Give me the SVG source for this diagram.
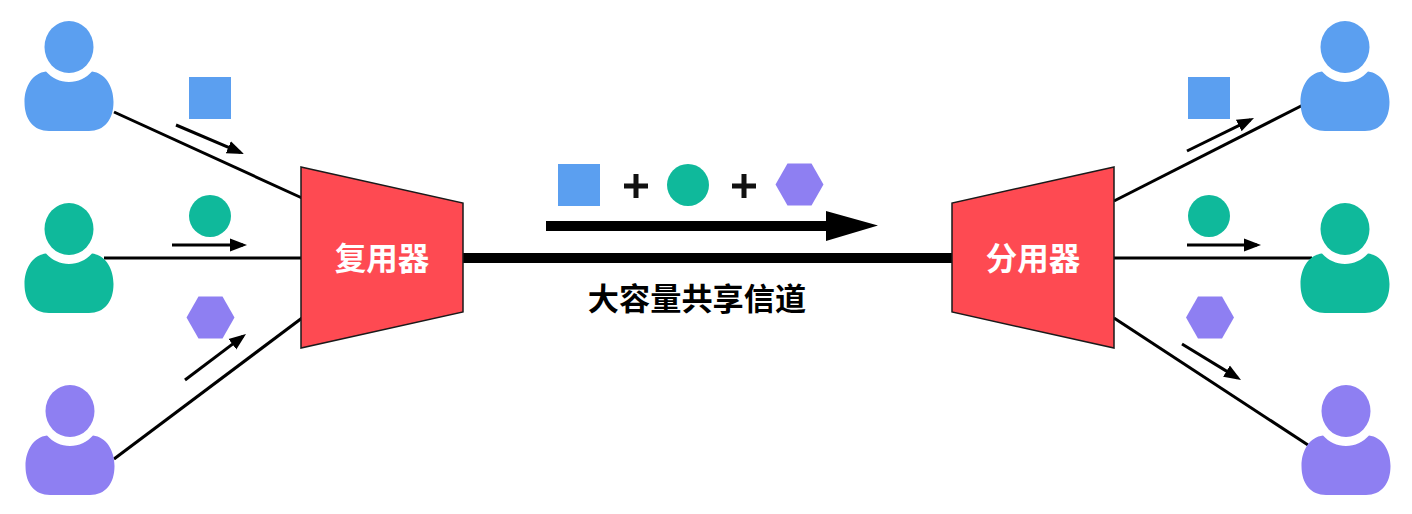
<svg xmlns="http://www.w3.org/2000/svg" xmlns:xlink="http://www.w3.org/1999/xlink" width="1412" height="514" viewBox="0 0 1412 514">
<style>
.blue{fill:#5b9ff0}.green{fill:#0fb99b}.purple{fill:#8e7ff2}
.mux{fill:#fe4a52;stroke:#1a1a1a;stroke-width:1.5}
.link{stroke:#000;stroke-width:3;fill:none}
.flow{stroke:#000;stroke-width:3;fill:none;marker-end:url(#ah)}
.lbl{font-family:"Noto Sans CJK SC","Liberation Sans",sans-serif;font-weight:700;text-anchor:middle}
</style>
<defs>
<marker id="ah" markerUnits="userSpaceOnUse" markerWidth="20" markerHeight="16" refX="13" refY="7" orient="auto"><path d="M0,0.500L17,7L0,13.500Z" fill="#000"/></marker>
<symbol id="person" overflow="visible" viewBox="-46 -27 92 112" width="92" height="112">
<ellipse cx="0" cy="0" rx="24.500" ry="26"/>
<path d="M-23,24.500C-17,31-9,35 0,35C9,35 17,31 23,24.500C36,26 44.500,39 44.500,55C44.500,73 35,84 20,84H-20C-35,84-44.500,73-44.500,55C-44.500,39-36,26-23,24.500Z"/>
</symbol>
<polygon id="hex" points="-24,0 -12,-21 12,-21 24,0 12,21 -12,21"/>
</defs>
<rect width="1412" height="514" fill="#fff"/>
<g id="connectors">
<path class="link" d="M114,112L302,198"/>
<path class="link" d="M104,258H302"/>
<path class="link" d="M114,459L302,318"/>
<path d="M463,258H952" stroke="#000" stroke-width="10" fill="none"/>
<path class="link" d="M1114,201L1303,105"/>
<path class="link" d="M1114,258H1312"/>
<path class="link" d="M1114,318L1308,445"/>
<path class="flow" d="M176,125L240.300,152.400"/>
<path class="flow" d="M172,245H243"/>
<path class="flow" d="M185,380L242.800,336.400"/>
<path class="flow" d="M1187,151L1250.400,119.800"/>
<path class="flow" d="M1187,245H1257"/>
<path class="flow" d="M1182,344L1237.600,377.900"/>
<path d="M546,221H826V211L878,225.500L826,241V231H546Z" fill="#000"/>
</g>
<g id="user-blue-left"><use href="#person" x="23" y="20" class="blue"/></g>
<g id="user-green-left"><use href="#person" x="23" y="202" class="green"/></g>
<g id="user-purple-left"><use href="#person" x="24" y="384" class="purple"/></g>
<g id="user-blue-right"><use href="#person" x="1299" y="20" class="blue"/></g>
<g id="user-green-right"><use href="#person" x="1299" y="202" class="green"/></g>
<g id="user-purple-right"><use href="#person" x="1300" y="384" class="purple"/></g>
<g id="packet-blue-left"><rect x="189" y="77" width="42" height="42" class="blue"/></g>
<g id="packet-green-left"><circle cx="210" cy="216" r="21" class="green"/></g>
<g id="packet-purple-left"><use href="#hex" x="210.500" y="317.500" class="purple"/></g>
<g id="packet-blue-right"><rect x="1188" y="77" width="42" height="42" class="blue"/></g>
<g id="packet-green-right"><circle cx="1209" cy="216" r="21" class="green"/></g>
<g id="packet-purple-right"><use href="#hex" x="1210" y="317.500" class="purple"/></g>
<g id="mux"><polygon class="mux" points="301,167 463,203 463,312 301,348"/><text class="lbl" x="382" y="270" font-size="31.500" fill="#fff">复用器</text></g>
<g id="demux"><polygon class="mux" points="1114,167 952,203 952,312 1114,348"/><text class="lbl" x="1033" y="270" font-size="31.500" fill="#fff">分用器</text></g>
<g id="combined">
<rect x="558" y="164" width="42" height="42" class="blue"/>
<path d="M636,174V198M624,186H648M744,174V198M732,186H756" stroke="#111" stroke-width="5" fill="none"/>
<circle cx="688" cy="185" r="21" class="green"/>
<use href="#hex" x="799.500" y="184.500" class="purple"/>
</g>
<g id="channel-label"><text class="lbl" x="697" y="310" font-size="31.200" fill="#000">大容量共享信道</text></g>
</svg>
